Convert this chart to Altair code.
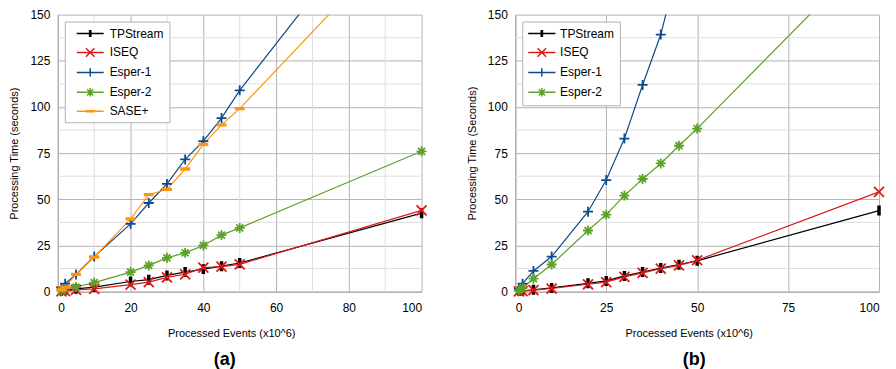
import altair as alt
import pandas as pd

# ---- data ----
events = [1, 2, 5, 10, 20, 25, 30, 35, 40, 45, 50, 100]

series_a = ["TPStream", "ISEQ", "Esper-1", "Esper-2", "SASE+"]
series_b = ["TPStream", "ISEQ", "Esper-1", "Esper-2"]

tpstream_a = [0.5, 1.0, 1.5, 2.5, 5.5, 6.5, 8.8, 10.6, 12.2, 13.8, 15.5, 42.5]
iseq_a = [0.2, 0.3, 1.0, 1.5, 3.8, 5.2, 7.7, 9.4, 13.0, 13.5, 14.8, 44.0]
esper1_a = [2.0, 4.3, 9.3, 19.0, 36.7, 48.0, 58.3, 71.6, 81.5, 94.0, 109.0, 235.0]
esper2_a = [0.5, 1.5, 2.5, 4.9, 10.6, 14.2, 18.3, 21.0, 25.0, 30.6, 34.5, 76.0]
sase_a = [1.0, 2.5, 9.3, 18.7, 39.4, 52.5, 55.4, 66.4, 79.7, 90.3, 99.1, 203.0]

tpstream_b = [0.3, 0.5, 1.0, 2.0, 4.5, 5.8, 8.5, 10.6, 12.8, 14.6, 16.7, 43.9]
iseq_b = [0.2, 0.3, 0.8, 1.7, 4.0, 5.2, 8.0, 10.2, 12.5, 14.2, 17.0, 54.0]
esper1_b = [1.5, 4.3, 11.2, 19.0, 43.3, 60.4, 82.9, 111.9, 139.2, 178.0, 218.0, 650.0]
esper2_b = [0.5, 2.0, 7.0, 14.7, 33.1, 41.7, 52.0, 61.0, 69.4, 79.0, 88.3, 188.0]

x_ticks_a = [0, 20, 40, 60, 80, 100]
x_minor_a = [10, 30, 50, 70, 90]
x_ticks_b = [0, 25, 50, 75, 100]
x_minor_b = []
y_ticks = [0, 25, 50, 75, 100, 125, 150]
y_minor = [12.5, 37.5, 62.5, 87.5, 112.5, 137.5]
Y_MAX = 150

colors = {
    "TPStream": "#000000",
    "ISEQ": "#dd1a1a",
    "Esper-1": "#0e4a8a",
    "Esper-2": "#5ca22a",
    "SASE+": "#ff950e",
}

marker_paths = {
    "TPStream": "M-0.17,-1L-0.17,1M0,-1L0,1M0.17,-1L0.17,1",
    "ISEQ": "M-1,-1L1,1M-1,1L1,-1",
    "Esper-1": "M-1,0L1,0M0,-1L0,1",
    "Esper-2": "M-1,0L1,0M0,-1L0,1M-0.7,-0.7L0.7,0.7M-0.7,0.7L0.7,-0.7",
    "SASE+": "M-1,-0.15L1,-0.15M-1,0L1,0M-1,0.15L1,0.15",
}

LEG_SIZE = 144          # legend symbol size -> unit = sqrt(size)/2 px
LEG_UNIT = LEG_SIZE ** 0.5 / 2


def legend_path(s, x0px, x1px):
    """Legend glyph: a line from x0px to x1px (px from symbol centre) with the marker in the middle."""
    u = LEG_UNIT
    x0, x1 = x0px / u, x1px / u
    m = (x0 + x1) / 2
    f = lambda v: f"{v:.3f}"
    k = lambda px: px / u
    line = f"M{f(x0)},0L{f(x1)},0"
    if s == "TPStream":
        h, w = k(3.6), k(0.6)
        mk = (f"M{f(m-w)},{f(-h)}L{f(m-w)},{f(h)}M{f(m+w)},{f(-h)}L{f(m+w)},{f(h)}"
              f"M{f(m)},{f(-h)}L{f(m)},{f(h)}")
    elif s == "ISEQ":
        h = k(4.3)
        mk = f"M{f(m-h)},{f(-h)}L{f(m+h)},{f(h)}M{f(m-h)},{f(h)}L{f(m+h)},{f(-h)}"
    elif s == "Esper-1":
        h = k(4.2)
        mk = f"M{f(m-h)},0L{f(m+h)},0M{f(m)},{f(-h)}L{f(m)},{f(h)}"
    elif s == "Esper-2":
        h, d = k(4.3), k(3.1)
        mk = (f"M{f(m)},{f(-h)}L{f(m)},{f(h)}M{f(m-h)},0L{f(m+h)},0"
              f"M{f(m-d)},{f(-d)}L{f(m+d)},{f(d)}M{f(m-d)},{f(d)}L{f(m+d)},{f(-d)}")
    else:
        h, w = k(0.6), k(4.5)
        mk = (f"M{f(m-w)},{f(-h)}L{f(m+w)},{f(-h)}M{f(m-w)},{f(h)}L{f(m+w)},{f(h)}"
              f"M{f(m-w)},0L{f(m+w)},0")
    return line + mk


FONT = "Liberation Sans"
MAJOR = "#b3b3b3"
MINOR = "#dedede"


def long_df(series, values):
    rows = []
    for s, vals in zip(series, values):
        for e, v in zip(events, vals):
            rows.append({"series": s, "events": e, "time": v})
    return pd.DataFrame(rows)


def panel(series, values, x_ticks, x_minor, y_title, label, title_dx,
          lx0, lx1, label_offset, label_pad):
    df = long_df(series, values)
    color_scale = alt.Scale(domain=series, range=[colors[s] for s in series])
    legend_shape_scale = alt.Scale(
        domain=series, range=[legend_path(s, lx0, lx1) for s in series]
    )
    legend = alt.Legend(
        title=None,
        orient="none",
        legendX=7,
        legendY=7,
        fillColor="white",
        strokeColor=MAJOR,
        padding=5,
        cornerRadius=0,
        labelFont=FONT,
        labelFontSize=12,
        labelColor="#000000",
        labelOffset=label_offset,
        labelExpr="datum.label + '" + label_pad + "'",
        symbolSize=LEG_SIZE,
        symbolStrokeWidth=1.5,
        symbolOpacity=1,
        rowPadding=4,
    )
    x = alt.X(
        "events:Q",
        scale=alt.Scale(domain=[0, 100], nice=False, zero=True),
        axis=alt.Axis(
            values=x_ticks,
            title="Processed Events (x10^6)",
            grid=True,
            gridColor=MAJOR,
            domainColor=MAJOR,
            domainWidth=1.5,
            ticks=False,
            labelPadding=11,
            labelFont=FONT,
            labelFontSize=12,
            labelColor="#000000",
            titleFont=FONT,
            titleFontSize=11,
            titleFontWeight="normal",
            titleColor="#000000",
            titleX=174,
            titlePadding=14,
            format="d",
        ),
    )
    y = alt.Y(
        "time:Q",
        scale=alt.Scale(domain=[0, Y_MAX], nice=False),
        axis=alt.Axis(
            values=y_ticks,
            title=y_title,
            grid=True,
            gridColor=MAJOR,
            domainColor=MAJOR,
            domainWidth=1.5,
            ticks=False,
            labelPadding=8,
            labelFont=FONT,
            labelFontSize=12,
            labelColor="#000000",
            titleFont=FONT,
            titleFontSize=11,
            titleFontWeight="normal",
            titleColor="#000000",
            titlePadding=10,
            format="d",
        ),
    )
    color_legend = alt.Color("series:N", scale=color_scale, sort=series, legend=legend)

    layers = []
    # invisible layer that only provides the legend entries (line + marker glyph)
    layers.append(
        alt.Chart(df)
        .mark_point(clip=True, filled=False, opacity=0, size=LEG_SIZE)
        .encode(
            x=x,
            y=y,
            color=color_legend,
            shape=alt.Shape("series:N", scale=legend_shape_scale, sort=series, legend=legend),
        )
    )
    if x_minor:
        layers.append(
            alt.Chart(pd.DataFrame({"events": x_minor}))
            .mark_rule(color=MINOR, strokeWidth=1)
            .encode(x=x)
        )
    layers.append(
        alt.Chart(pd.DataFrame({"time": y_minor}))
        .mark_rule(color=MINOR, strokeWidth=1)
        .encode(y=y)
    )
    for s in series:
        sdf = alt.Chart(df).transform_filter(alt.datum.series == s)
        layers.append(
            sdf.mark_line(clip=True, strokeWidth=1.2, color=colors[s]).encode(x=x, y=y)
        )
    for s in series:
        sdf = alt.Chart(df).transform_filter(
            (alt.datum.series == s) & (alt.datum.time <= Y_MAX)
        )
        layers.append(
            sdf.mark_point(
                filled=False,
                size=100,
                strokeWidth=1.8,
                opacity=1,
                color=colors[s],
                shape=marker_paths[s],
            ).encode(x=x, y=y)
        )
    return alt.layer(*layers).properties(
        width=365,
        height=278,
        title=alt.TitleParams(
            label,
            orient="bottom",
            fontSize=18,
            fontWeight="bold",
            font=FONT,
            color="#000000",
            frame="group",
            anchor="middle",
            dx=title_dx,
            offset=13,
        ),
    )


pa = panel(
    series_a,
    [tpstream_a, iseq_a, esper1_a, esper2_a, sase_a],
    x_ticks_a,
    x_minor_a,
    "Processing Time (seconds)",
    "(a)",
    -15,
    0, 27, 26, "  ",
)
pb = panel(
    series_b,
    [tpstream_b, iseq_b, esper1_b, esper2_b],
    x_ticks_b,
    x_minor_b,
    "Processing Time (Seconds)",
    "(b)",
    -3,
    -6, 21.3, 19, "",
)

chart = (
    alt.hconcat(pa, pb, spacing=94, bounds="flush", padding=0)
    .resolve_scale(color="independent", shape="independent")
    .resolve_legend(color="independent", shape="independent")
    .configure(font=FONT)
    .configure_view(stroke=None)
)

chart.save("out.html", embed_options={"renderer": "svg", "actions": False})
